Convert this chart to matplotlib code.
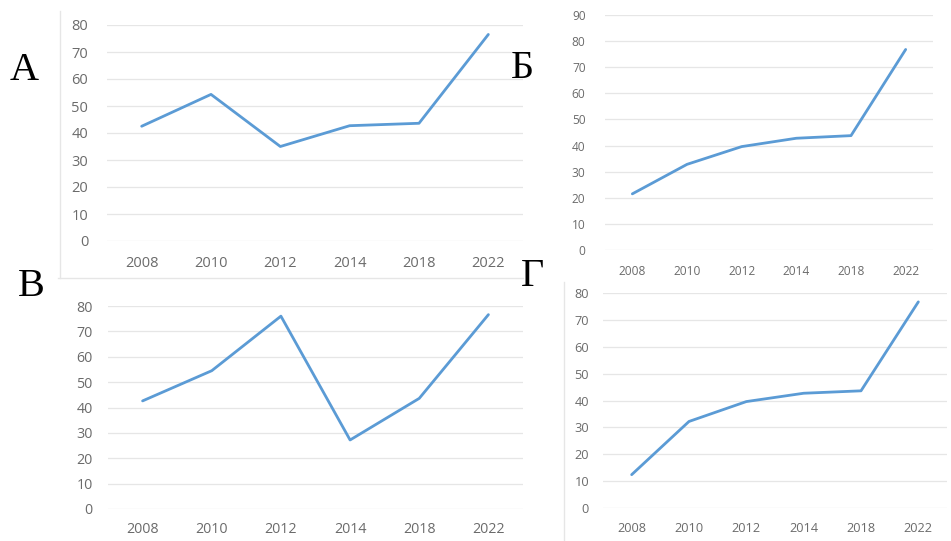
import matplotlib
matplotlib.use("Agg")
import matplotlib.pyplot as plt
from matplotlib.lines import Line2D
import numpy as np

# values
years = ["2008", "2010", "2012", "2014", "2018", "2022"]
a_vals = [42.5, 54.3, 35.0, 42.7, 43.6, 76.5]
b_vals = [21.5, 32.8, 39.6, 42.8, 43.8, 76.8]
v_vals = [42.6, 54.5, 76.0, 27.2, 43.6, 76.6]
g_vals = [12.4, 32.2, 39.6, 42.7, 43.6, 76.7]

W, H = 951, 541
LINE = "#5B9BD5"
GRID = "#E6E6E6"
TEXT = "#6B6B6B"

fig = plt.figure(figsize=(W / 100, H / 100), dpi=100)
fig.patch.set_facecolor("white")


def px_axes(x0, x1, y_top, y_bot):
    # pixel box (top-left origin) -> figure fraction
    return fig.add_axes([x0 / W, 1 - y_bot / H, (x1 - x0) / W, (y_bot - y_top) / H])


def panel(box, vals, ymax, fs, ypad, xpad):
    ax = px_axes(*box)
    x = np.arange(len(years))
    ax.plot(x, vals, color=LINE, lw=2.0, solid_joinstyle="round", solid_capstyle="round")
    ax.set_xlim(-0.5, len(years) - 0.5)
    ax.set_ylim(0, ymax)
    ax.set_yticks(np.arange(0, ymax + 1, 10))
    ax.set_xticks(x)
    ax.set_xticklabels(years)
    ax.yaxis.grid(True, color=GRID, lw=0.9)
    ax.set_axisbelow(True)
    for s in ax.spines.values():
        s.set_visible(False)
    ax.tick_params(axis="both", length=0, labelcolor=TEXT, labelsize=fs)
    ax.tick_params(axis="y", pad=ypad)
    ax.tick_params(axis="x", pad=xpad)
    for lab in ax.get_xticklabels() + ax.get_yticklabels():
        lab.set_family("Open Sans")
    ax.set_facecolor("none")
    return ax


panel((107, 523, 25, 241), a_vals, 80, 10.5, 13.5, 11)
panel((605, 933, 15, 250), b_vals, 90, 8.6, 14, 11)
panel((108, 523, 306, 509), v_vals, 80, 10.3, 11, 9.5)
panel((603, 947, 293, 508), g_vals, 80, 9.2, 10, 10)

# chart borders that show in the collage
def fline(xs, ys):
    fig.add_artist(Line2D([v / W for v in xs], [1 - v / H for v in ys],
                          color="#E6E6E6", lw=1.0))

fline([60, 60], [11, 278])
fline([58, 523], [278, 278])
fline([564, 564], [282, 541])

# panel letters
for lab, cx, cy in [("А", 24, 70), ("Б", 522, 68), ("В", 31, 286), ("Г", 533, 277)]:
    fig.text(cx / W, 1 - cy / H, lab, family="Liberation Serif", fontsize=29,
             ha="center", va="center", color="black")

fig.savefig("out.png", dpi=100, facecolor="white")
